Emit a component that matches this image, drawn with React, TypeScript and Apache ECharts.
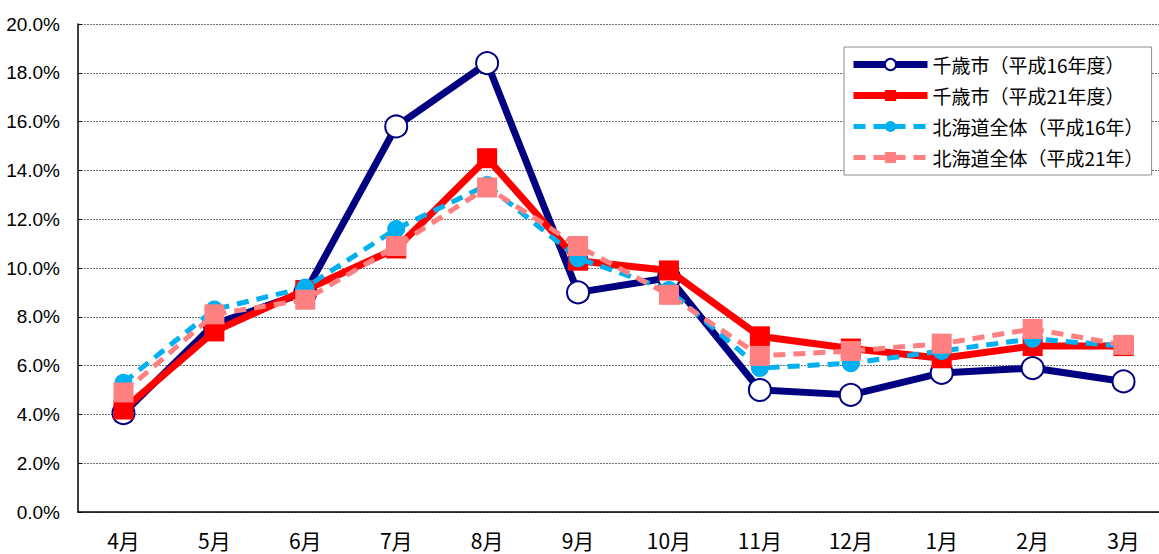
import React, { useEffect, useRef } from "react";
import * as echarts from "echarts";

const months = ["4月", "5月", "6月", "7月", "8月", "9月", "10月", "11月", "12月", "1月", "2月", "3月"];
const chitose16 = [4.05, 7.7, 9.0, 15.8, 18.4, 9.0, 9.6, 5.0, 4.8, 5.7, 5.9, 5.35];
const chitose21 = [4.2, 7.4, 9.1, 10.8, 14.5, 10.3, 9.9, 7.2, 6.7, 6.3, 6.8, 6.8];
const hokkaido16 = [5.3, 8.3, 9.2, 11.6, 13.4, 10.4, 9.1, 5.9, 6.1, 6.6, 7.1, 6.8];
const hokkaido21 = [4.9, 8.1, 8.7, 10.9, 13.3, 10.9, 8.9, 6.4, 6.6, 6.9, 7.5, 6.85];
const seriesNames = ["千歳市（平成16年度）", "千歳市（平成21年度）", "北海道全体（平成16年）", "北海道全体（平成21年）"];

export default function App() {
  const ref = useRef<HTMLDivElement>(null);
  useEffect(() => {
    if (!ref.current) return;
    const chart = echarts.init(ref.current, undefined, { renderer: "svg" });
    chart.setOption({
      animation: false,
      backgroundColor: "#ffffff",
      grid: { left: 78, right: 1, top: 24, bottom: 42 },
      legend: {
        orient: "vertical",
        left: 844,
        top: 47,
        padding: [8, 8, 8, 6],
        itemWidth: 74,
        itemHeight: 14,
        itemGap: 12,
        borderColor: "#8c8c8c",
        borderWidth: 1,
        backgroundColor: "#ffffff",
        textStyle: { fontFamily: "Noto Sans CJK JP", fontSize: 19, color: "#000" },
        data: [
          { name: seriesNames[0], lineStyle: { width: 7 } },
          { name: seriesNames[1], lineStyle: { width: 7 } },
          { name: seriesNames[2], lineStyle: { width: 5 } },
          { name: seriesNames[3], lineStyle: { width: 5 } },
        ],
      },
      xAxis: {
        type: "category",
        data: months,
        boundaryGap: true,
        axisLine: { lineStyle: { color: "#000", width: 1.5 } },
        axisTick: { inside: true, length: 6, lineStyle: { color: "#000" } },
        axisLabel: { fontFamily: "Noto Sans CJK JP", fontSize: 21, color: "#000", margin: 17 },
      },
      yAxis: {
        type: "value",
        min: 0,
        max: 20,
        interval: 2,
        axisLine: { show: true, lineStyle: { color: "#000", width: 1.5 } },
        axisTick: { show: true, inside: true, length: 4, lineStyle: { color: "#000" } },
        axisLabel: {
          fontFamily: "Liberation Sans, Arial, sans-serif",
          fontSize: 19,
          color: "#000",
          margin: 18,
          formatter: (v: number) => v.toFixed(1) + "%",
        },
        splitLine: { show: true, lineStyle: { color: "#707070", type: [2, 1], width: 1 } },
      },
      series: [
        {
          name: seriesNames[0],
          type: "line",
          data: chitose16,
          symbol: "circle",
          symbolSize: 22,
          lineStyle: { color: "#000080", width: 7 },
          itemStyle: { color: "#ffffff", borderColor: "#000080", borderWidth: 2 },
          z: 2,
        },
        {
          name: seriesNames[1],
          type: "line",
          data: chitose21,
          symbol: "rect",
          symbolSize: 20,
          lineStyle: { color: "#ff0000", width: 7 },
          itemStyle: { color: "#ff0000" },
          z: 3,
        },
        {
          name: seriesNames[2],
          type: "line",
          data: hokkaido16,
          symbol: "circle",
          symbolSize: 18,
          lineStyle: { color: "#00b0f0", width: 5, type: [12, 8] },
          itemStyle: { color: "#00b0f0" },
          z: 4,
        },
        {
          name: seriesNames[3],
          type: "line",
          data: hokkaido21,
          symbol: "rect",
          symbolSize: 20,
          lineStyle: { color: "#ff8080", width: 5, type: [12, 8] },
          itemStyle: { color: "#ff8080" },
          z: 5,
        },
      ],
    });
    return () => chart.dispose();
  }, []);
  return (
    <div style={{ position: "fixed", left: 0, top: 0, width: 1159, height: 554, overflow: "hidden", background: "#fff" }}>
      <div ref={ref} style={{ width: 1170, height: 554 }} />
    </div>
  );
}
